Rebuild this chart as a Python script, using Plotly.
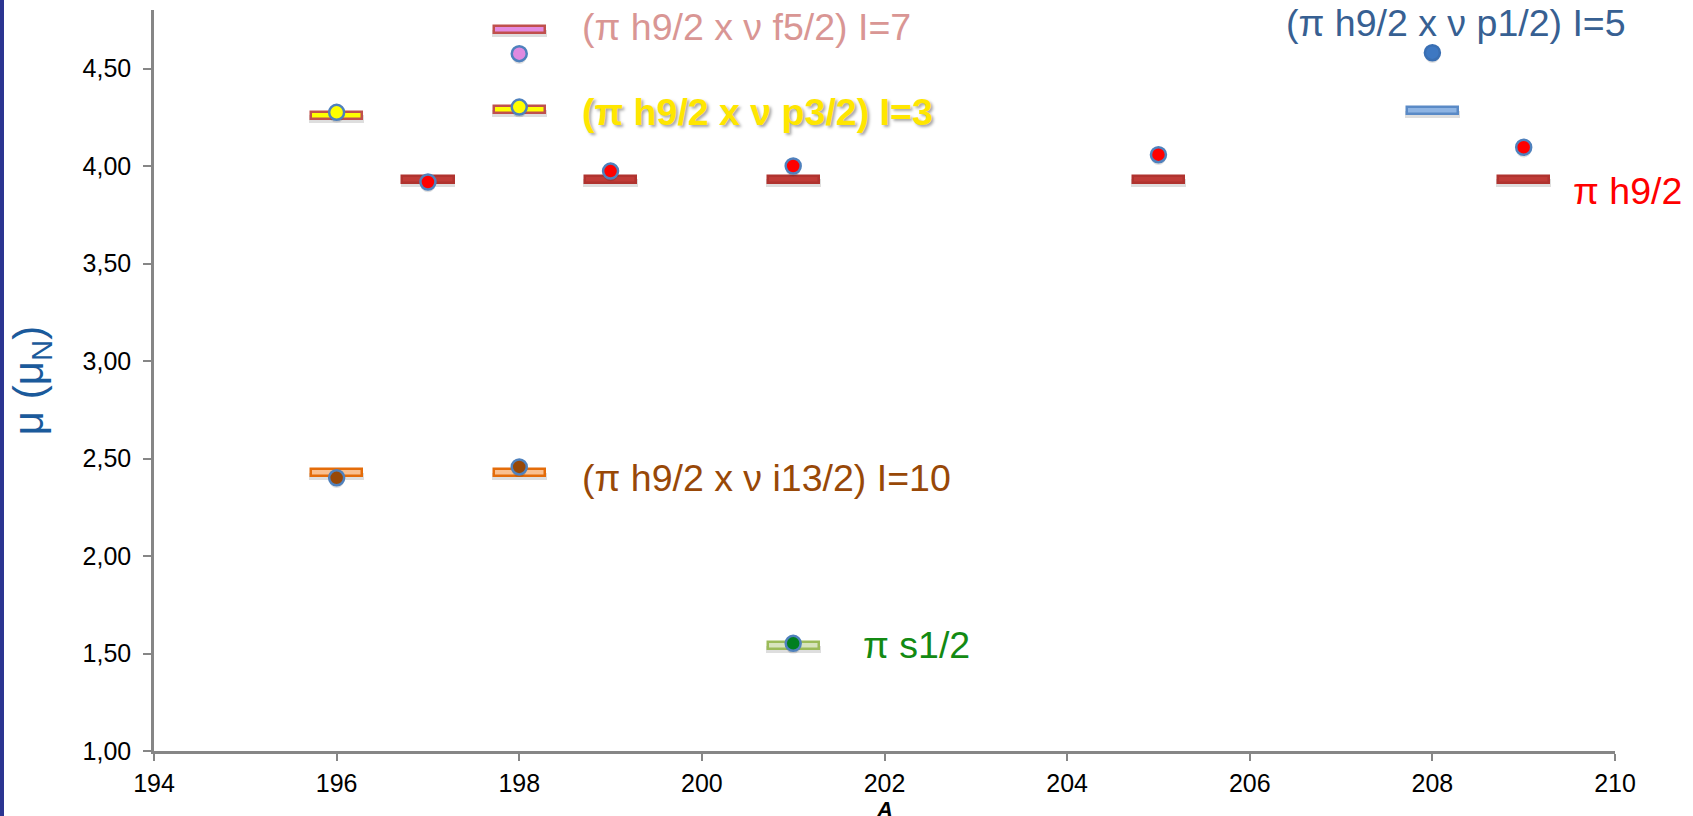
import plotly.graph_objects as go

# ---------------- data ----------------
# pi h9/2 ground states
A_h92 = [197, 199, 201, 205, 209]
mu_h92_exp = [3.918, 3.974, 4.000, 4.058, 4.096]
mu_h92_th = [3.932, 3.932, 3.932, 3.932, 3.932]

# (pi h9/2 x nu p3/2) I=3
A_p32 = [196, 198]
mu_p32_exp = [4.275, 4.302]
mu_p32_th = [4.260, 4.289]

# (pi h9/2 x nu f5/2) I=7
A_f52 = [198]
mu_f52_exp = [4.576]
mu_f52_th = [4.699]

# (pi h9/2 x nu i13/2) I=10
A_i132 = [196, 198]
mu_i132_exp = [2.401, 2.457]
mu_i132_th = [2.428, 2.428]

# pi s1/2
A_s12 = [201]
mu_s12_exp = [1.552]
mu_s12_th = [1.540]

# (pi h9/2 x nu p1/2) I=5
A_p12 = [208]
mu_p12_exp = [4.581]
mu_p12_th = [4.285]

x_ticks = [194, 196, 198, 200, 202, 204, 206, 208, 210]
y_ticks = [1.0, 1.5, 2.0, 2.5, 3.0, 3.5, 4.0, 4.5]

# ---------------- styling ----------------
FONT = "Liberation Sans, Arial, sans-serif"
BAR_W = 0.56
BAR_H = 0.038
EXP_LINE = "#4F81BD"

groups = [
    # A, exp, th, bar fill, bar line, dot fill, dot line
    (A_h92, mu_h92_exp, mu_h92_th, "#BF3B37", "#B0332F", "#FF0000", EXP_LINE),
    (A_p32, mu_p32_exp, mu_p32_th, "#FFFF00", "#C0504D", "#FFFF00", EXP_LINE),
    (A_f52, mu_f52_exp, mu_f52_th, "#E48BE0", "#C0504D", "#E08AE0", EXP_LINE),
    (A_i132, mu_i132_exp, mu_i132_th, "#FAC090", "#E46C0A", "#984807", EXP_LINE),
    (A_s12, mu_s12_exp, mu_s12_th, "#D7E4BD", "#9BBB59", "#007F1F", EXP_LINE),
    (A_p12, mu_p12_exp, mu_p12_th, "#8EB4E3", "#5A8AC6", "#3E78C2", "#3A6FB3"),
]

fig = go.Figure()

# shadows of the level bars
for A, ex, th, bf, bl, df, dl in groups:
    fig.add_trace(go.Bar(
        x=A, y=[BAR_H] * len(A), base=[t - BAR_H / 2 - 0.02 for t in th],
        width=BAR_W + 0.04, marker=dict(color="rgba(0,0,0,0.13)", line=dict(width=0)),
        hoverinfo="skip", showlegend=False))

# level bars (calculated)
for A, ex, th, bf, bl, df, dl in groups:
    fig.add_trace(go.Bar(
        x=A, y=[BAR_H] * len(A), base=[t - BAR_H / 2 for t in th],
        width=BAR_W, marker=dict(color=bf, line=dict(color=bl, width=2.5)),
        showlegend=False))

# dot shadows
for A, ex, th, bf, bl, df, dl in groups:
    fig.add_trace(go.Scatter(
        x=A, y=[e - 0.014 for e in ex], mode="markers",
        marker=dict(size=15, color="rgba(0,0,0,0.12)", line=dict(width=0)),
        hoverinfo="skip", showlegend=False))

# experimental points
for A, ex, th, bf, bl, df, dl in groups:
    fig.add_trace(go.Scatter(
        x=A, y=ex, mode="markers",
        marker=dict(size=15, color=df, line=dict(color=dl, width=2.5)),
        showlegend=False))

labels = [
    ("(π h9/2 x ν f5/2) I=7", 198.67, 4.711, "#D99694", False),
    ("<b>(π h9/2 x ν p3/2) I=3</b>", 198.67, 4.275, "#FFE600", True),
    ("(π h9/2 x ν p1/2) I=5", 206.37, 4.734, "#376092", False),
    ("π h9/2", 209.52, 3.874, "#FF0000", False),
    ("(π h9/2 x ν i13/2) I=10", 198.67, 2.402, "#984807", False),
    ("π s1/2", 201.74, 1.543, "#138A13", False),
]
for text, x, y, col, shadow in labels:
    f = dict(family=FONT, size=37.5, color=col)
    if shadow:
        f["shadow"] = "2px 2px 3px rgba(0,0,0,0.35)"
    fig.add_annotation(x=x, y=y, xref="x", yref="y", text=text, showarrow=False,
                       xanchor="left", yanchor="middle", font=f)

# x-axis title (sits at the very bottom of the figure, as in the original)
fig.add_annotation(x=0.5, y=0, xref="paper", yref="paper", yshift=-44,
                   text="<b><i>A</i></b>", showarrow=False, xanchor="center",
                   yanchor="top", font=dict(size=22, family=FONT, color="black"))

# navy stripe on the left edge
fig.add_shape(type="rect", xref="paper", yref="paper",
              x0=-154 / 1461, x1=-150 / 1461, y0=-70 / 741, y1=1 + 15 / 741,
              fillcolor="#2B3591", line=dict(width=0), layer="above")

fig.update_layout(
    width=1693, height=816,
    margin=dict(l=154, r=78, t=10, b=65, autoexpand=False),
    paper_bgcolor="white", plot_bgcolor="white",
    barmode="overlay", bargap=0,
    separators=", ",
    showlegend=False,
    font=dict(family=FONT, color="black"),
)
fig.update_xaxes(
    range=[194, 210], tickvals=x_ticks, ticks="outside", ticklen=7, tickwidth=2,
    tickcolor="#868686", showline=True, linecolor="#868686", linewidth=2.5,
    showgrid=False, zeroline=False, tickfont=dict(size=25, family=FONT, color="black"),
    ticklabelstandoff=1, automargin=False,
)
fig.update_yaxes(
    range=[1, 4.8], tickvals=y_ticks, tickformat=".2f", ticks="outside", ticklen=8,
    tickwidth=2, tickcolor="#868686", showline=True, linecolor="#868686", linewidth=2.5,
    showgrid=False, zeroline=False, tickfont=dict(size=25, family=FONT, color="black"),
    ticklabelstandoff=7, automargin=False,
    title=dict(text="μ (μ<sub>N</sub>)", standoff=26, font=dict(size=42, family=FONT, color="#1B5A9B")),
)

fig.write_html("out.html", config={"displayModeBar": False},
               post_script="document.body.style.margin='0';document.body.style.overflow='hidden';")
